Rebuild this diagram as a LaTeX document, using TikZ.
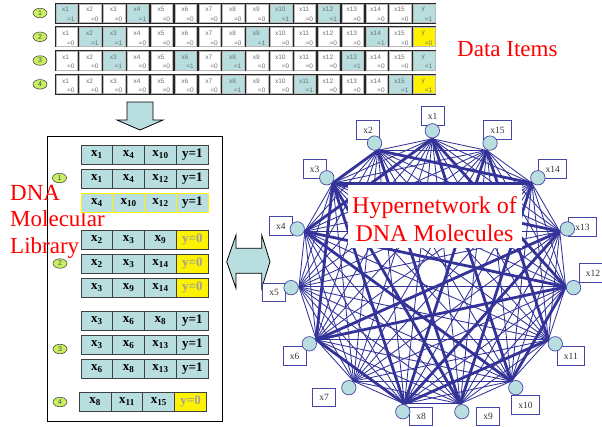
\documentclass[tikz,border=0pt]{standalone}
\usepackage{fontspec}
\setmainfont{Liberation Serif}
\setsansfont{Liberation Sans}
\usetikzlibrary{shapes.geometric}
\definecolor{cellblue}{HTML}{B8DEE0}
\definecolor{netblue}{HTML}{33339A}
\definecolor{lblblue}{HTML}{4646A6}
\definecolor{numgreen}{HTML}{C8F060}
\definecolor{txtgray}{HTML}{707070}
\definecolor{ygray}{HTML}{A0A0A0}
\begin{document}
\begin{tikzpicture}[x=1pt,y=-1pt,
  tcell/.style={draw=gray!55, line width=0.6, minimum width=21.4, minimum height=18.4, inner sep=0},
  tlab/.style={font=\sffamily\fontsize{6.5}{7}\selectfont, text=txtgray, inner sep=0},
  numov/.style={ellipse, draw=black!70, line width=0.6, fill=numgreen, minimum width=14, minimum height=9.5, inner sep=0, font=\sffamily\fontsize{7}{7}\selectfont, text=black!70},
  blockarrow/.style={draw=black, line width=0.8, fill=cellblue},
  lcell/.style={draw=black!75, line width=1, fill=cellblue, minimum width=31.8, minimum height=19, inner sep=0, font=\bfseries\fontsize{13}{13}\selectfont},
  redtext/.style={text=red, inner sep=0, font=\fontsize{23}{23}\selectfont},
  lblbox/.style={draw=lblblue, line width=0.8, fill=white, minimum height=18.5, inner xsep=6.8, inner ysep=0, font=\fontsize{9.5}{9.5}\selectfont, text=black!80},
  vcirc/.style={circle, draw=lblblue, line width=0.7, fill=cellblue, minimum size=14.4, inner sep=0},
  thinedge/.style={draw=netblue, line width=0.85},
  thickedge/.style={draw=netblue, line width=2.8}]
\useasboundingbox (0,0) rectangle (602,426);
\fill[white] (0,0) rectangle (602,426);

% ---------- data items table ----------
\foreach \r in {1,...,4}{
  \pgfmathsetmacro\tp{2.7+23.77*(\r-1)}
  \fill[black!85] (54.6,\tp) rectangle (436.2,\tp+21);
  \node[numov] (tn\r) at (40,\tp+10.3) {\r};
  \foreach \c in {0,...,14}{
    \pgfmathtruncatemacro\n{\c+1}
    \node[tcell, fill=white] (tc\r-\n) at (54.6+23.85*\c+11.925,\tp+10.5) {};
    \node[tlab] at (54.6+23.85*\c+11,\tp+7) {x\n};
    \node[tlab] at (54.6+23.85*\c+16.3,\tp+16.3) {=0};
  }
}
\foreach \r/\c in {1/0,1/3,1/9,1/11,2/1,2/2,2/8,2/13,3/2,3/5,3/7,3/12,4/7,4/10,4/14}{
  \pgfmathsetmacro\tp{2.7+23.77*(\r-1)}
  \pgfmathtruncatemacro\n{\c+1}
  \node[tcell, fill=cellblue] (hc\r-\n) at (54.6+23.85*\c+11.925,\tp+10.5) {};
  \node[tlab] at (54.6+23.85*\c+11,\tp+7) {x\n};
  \node[tlab] at (54.6+23.85*\c+16.3,\tp+16.3) {=1};
}
\foreach \r/\f/\v in {1/cellblue/1,2/yellow/0,3/cellblue/1,4/yellow/1}{
  \pgfmathsetmacro\tp{2.7+23.77*(\r-1)}
  \node[tcell, fill=\f] (yc\r) at (54.6+23.85*15+11.925,\tp+10.5) {};
  \node[tlab] at (54.6+23.85*15+11,\tp+7) {y};
  \node[tlab] at (54.6+23.85*15+16.3,\tp+16.3) {=\v};
}
\node[redtext, anchor=base west] (data) at (457,56) {Data Items};

% ---------- down arrow ----------
\draw[blockarrow] (127,102) -- (153,102) -- (153,120) -- (163,120) -- (140,130) -- (117,120) -- (127,120) -- cycle;

% ---------- library ----------
\node[draw=black, line width=0.8, fill=white, minimum width=175.3, minimum height=285, anchor=north west, inner sep=0] (lib) at (46.7,135.7) {};
\node[redtext, anchor=base west] (t1) at (10,200) {DNA};
\node[redtext, anchor=base west] (t2) at (10,226.7) {Molecular};
\node[redtext, anchor=base west] (t3) at (10,253.3) {Library};

\foreach \k/\t/\xo/\a/\b/\c/\yv/\yf/\yt/\bd in {
  1/145/81/1/4/10/1/cellblue/black/black!75,
  2/169/81/1/4/12/1/cellblue/black/black!75,
  3/193/81/4/10/12/1/cellblue/black/yellow,
  4/230/81/2/3/9/0/yellow/ygray/black!75,
  5/254/81/2/3/14/0/yellow/ygray/black!75,
  6/278/81/3/9/14/0/yellow/ygray/black!75,
  7/311/81/3/6/8/1/cellblue/black/black!75,
  8/335/81/3/6/13/1/cellblue/black/black!75,
  9/359/81/6/8/13/1/cellblue/black/black!75,
  10/392/79.3/8/11/15/0/yellow/ygray/black!75}{
  \node[lcell, draw=\bd] (m\k a) at (\xo+15.9,\t+9.5) {x\textsubscript{\a}};
  \node[lcell, draw=\bd] (m\k b) at (\xo+47.7,\t+9.5) {x\textsubscript{\b}};
  \node[lcell, draw=\bd] (m\k c) at (\xo+79.5,\t+9.5) {x\textsubscript{\c}};
  \node[lcell, draw=\bd, fill=\yf, text=\yt] (m\k y) at (\xo+111.3,\t+9.5) {y=\yv};
}
\node[numov] (g1) at (59.5,178) {1};
\node[numov] (g2) at (60,263.5) {2};
\node[numov] (g3) at (60,349) {3};
\node[numov] (g4) at (60,402) {4};

% ---------- double arrow ----------
\draw[blockarrow] (226.7,261.7) -- (236,235) -- (236,248.3) -- (261.7,248.3) -- (261.7,235) -- (270,261.7) -- (261.7,288.3) -- (261.7,273.3) -- (236,273.3) -- (236,288.3) -- cycle;

% ---------- hypernetwork ----------
\foreach \k in {1,...,15}{
  \pgfmathsetmacro\ang{90+24*(\k-1)}
  \coordinate (h\k) at ({432.3+134*cos(\ang)},{272.8-134*sin(\ang)});
  \coordinate (p\k) at ({432.3+142*cos(\ang)},{272.8-142*sin(\ang)});
}
\foreach \k/\px/\py in {1/432.5/116,2/368/130,15/497.5/130,3/314.7/169,14/552.8/169,
  4/280.8/226,13/582.5/227,12/593/273,5/274/292.5,6/294.7/356,11/570.8/356,
  7/324/397.5,10/525.5/405,8/421/416.5,9/488/416.5}{
  \node[lblbox] (l\k) at (\px,\py) {x\k};
}
\foreach \i in {1,...,14}{
  \pgfmathtruncatemacro\s{\i+1}
  \foreach \j in {\s,...,15}{
    \draw[thinedge] (h\i) -- (h\j);
  }
}
\foreach \a/\b in {1/4,1/10,4/10,1/12,4/12,10/12,2/3,2/9,3/9,3/14,2/14,9/14,3/6,3/8,6/8,3/13,6/13,8/13,8/11,8/15,11/15,6/12}{
  \draw[thickedge] (h\a) -- (h\b);
}
\foreach \k in {1,...,15}{
  \node[vcirc] (n\k) at (p\k) {};
}
\node[fill=white, minimum width=174, minimum height=63, inner sep=0] (hbox) at (434.5,216.5) {};
\node[text=red, align=center, inner sep=0, font=\fontsize{24}{28}\selectfont] (htxt) at (434.5,218.8) {Hypernetwork of\\DNA Molecules};
\end{tikzpicture}
\end{document}
